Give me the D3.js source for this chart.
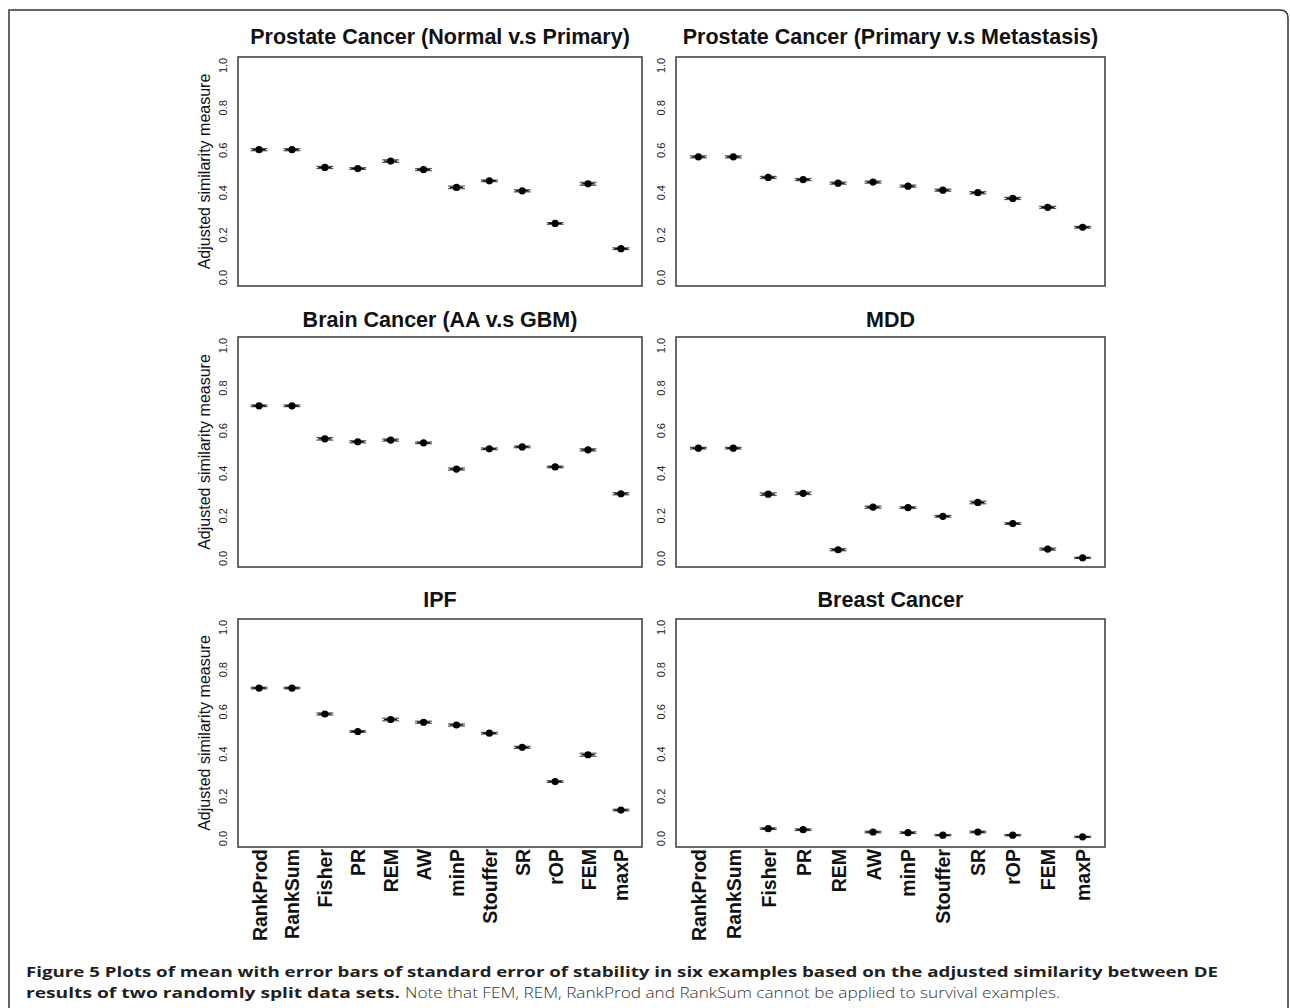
<!DOCTYPE html>
<html>
<head>
<meta charset="utf-8">
<script src="https://cdn.jsdelivr.net/npm/d3@7"></script>
<style>
  html, body { margin: 0; padding: 0; background: #fff; }
  svg { display: block; }
</style>
</head>
<body>
<svg id="chart" width="1290" height="1008"></svg>
<script>
// ---------------- DATA ----------------
const categories = ["RankProd","RankSum","Fisher","PR","REM","AW","minP","Stouffer","SR","rOP","FEM","maxP"];
const yTicks = [0.0, 0.2, 0.4, 0.6, 0.8, 1.0];
const yTickLabels = ["0.0","0.2","0.4","0.6","0.8","1.0"];
const panelTitles = [
  "Prostate Cancer (Normal v.s Primary)",
  "Prostate Cancer (Primary v.s Metastasis)",
  "Brain Cancer (AA v.s GBM)",
  "MDD",
  "IPF",
  "Breast Cancer"
];
const yAxisLabel = "Adjusted similarity measure";

// mean adjusted similarity (null = method not applicable)
const prostateNormalPrimary     = [0.603, 0.603, 0.519, 0.514, 0.549, 0.509, 0.425, 0.456, 0.409, 0.255, 0.442, 0.136];
const prostatePrimaryMetastasis = [0.569, 0.569, 0.472, 0.462, 0.445, 0.450, 0.431, 0.412, 0.400, 0.373, 0.331, 0.237];
const brainCancer               = [0.717, 0.717, 0.562, 0.548, 0.556, 0.543, 0.420, 0.515, 0.524, 0.430, 0.510, 0.304];
const mdd                       = [0.518, 0.518, 0.302, 0.306, 0.041, 0.241, 0.239, 0.198, 0.263, 0.164, 0.044, 0.003];
const ipf                       = [0.713, 0.713, 0.590, 0.507, 0.564, 0.551, 0.538, 0.499, 0.432, 0.270, 0.397, 0.135];
const breastCancer              = [null, null, 0.047, 0.042, null, 0.031, 0.028, 0.016, 0.031, 0.016, null, 0.008];

// standard errors
const seProstateNP = [0.005, 0.005, 0.005, 0.004, 0.006, 0.005, 0.006, 0.004, 0.005, 0.004, 0.007, 0.004];
const seProstatePM = [0.005, 0.005, 0.005, 0.005, 0.005, 0.005, 0.005, 0.005, 0.005, 0.005, 0.005, 0.004];
const seBrain      = [0.004, 0.004, 0.006, 0.005, 0.005, 0.004, 0.005, 0.004, 0.004, 0.004, 0.005, 0.005];
const seMdd        = [0.004, 0.004, 0.006, 0.006, 0.005, 0.005, 0.004, 0.004, 0.006, 0.004, 0.005, 0.003];
const seIpf        = [0.004, 0.004, 0.005, 0.004, 0.006, 0.005, 0.005, 0.004, 0.005, 0.004, 0.007, 0.004];
const seBreast     = [null, null, 0.004, 0.004, null, 0.004, 0.004, 0.003, 0.004, 0.003, null, 0.003];

const captionLine1 = "Figure 5 Plots of mean with error bars of standard error of stability in six examples based on the adjusted similarity between DE";
const captionLine2Bold = "results of two randomly split data sets.";
const captionLine2Plain = "Note that FEM, REM, RankProd and RankSum cannot be applied to survival examples.";

const panelMeans = [prostateNormalPrimary, prostatePrimaryMetastasis, brainCancer, mdd, ipf, breastCancer];
const panelSE = [seProstateNP, seProstatePM, seBrain, seMdd, seIpf, seBreast];

// ---------------- LAYOUT ----------------
const svg = d3.select("#chart");
const colX = [[238, 642], [676, 1105]];
const rowY = [[57, 286], [337, 567], [619, 847]];
const titleBase = [44, 327, 607];

// frame
svg.append("path")
  .attr("d", "M9,1030 L9,10 L1280,10 Q1288,10 1288,18 L1288,1030")
  .attr("fill", "none").attr("stroke", "#333").attr("stroke-width", 1.5);

panelTitles.forEach((title, i) => {
  const col = i % 2, row = Math.floor(i / 2);
  const [x0, x1] = colX[col];
  const [yTop, yBot] = rowY[row];
  const y = d3.scaleLinear().domain([-0.04, 1.04]).range([yBot, yTop]);
  const x = d3.scalePoint().domain(categories).range([x0, x1]).padding(0.64);

  const g = svg.append("g");

  // title
  g.append("text")
    .attr("x", (x0 + x1) / 2).attr("y", titleBase[row])
    .attr("text-anchor", "middle")
    .attr("font-family", "Liberation Sans, Arial, sans-serif")
    .attr("font-weight", "bold").attr("font-size", 21.5)
    .attr("fill", "#111")
    .text(title);

  // box
  g.append("rect")
    .attr("x", x0).attr("y", yTop).attr("width", x1 - x0).attr("height", yBot - yTop)
    .attr("fill", "none").attr("stroke", "#444").attr("stroke-width", 1.6);

  // y axis tick labels (rotated, R style)
  const yAxis = d3.axisLeft(y).tickValues(yTicks).tickSize(0).tickPadding(0)
    .tickFormat((d, k) => yTickLabels[k]);
  const ax = g.append("g").attr("transform", `translate(${x0 - 15},0)`).call(yAxis);
  ax.select(".domain").remove();
  ax.selectAll(".tick").attr("transform", null);
  ax.selectAll("text")
    .attr("x", 0).attr("y", 0)
    .attr("transform", d => `translate(0,${y(d)}) rotate(-90)`)
    .attr("dy", "0.35em")
    .attr("text-anchor", "middle")
    .attr("font-family", "Liberation Sans, Arial, sans-serif")
    .attr("font-size", 11).attr("fill", "#222");

  // y axis label (left column only)
  if (col === 0) {
    g.append("text")
      .attr("transform", `translate(${x0 - 28},${(yTop + yBot) / 2}) rotate(-90)`)
      .attr("text-anchor", "middle")
      .attr("font-family", "Liberation Sans, Arial, sans-serif")
      .attr("font-size", 16).attr("fill", "#111")
      .text(yAxisLabel);
  }

  // x labels (bottom row only)
  if (row === 2) {
    const xAxis = d3.axisBottom(x).tickSize(0).tickPadding(0);
    const xa = g.append("g").attr("transform", `translate(0,${yBot + 2})`).call(xAxis);
    xa.select(".domain").remove();
    xa.selectAll("text")
      .attr("y", 0).attr("x", 0).attr("dy", "0.36em")
      .attr("transform", "rotate(-90)")
      .attr("text-anchor", "end")
      .attr("font-family", "Liberation Sans, Arial, sans-serif")
      .attr("font-weight", "bold").attr("font-size", 19.5)
      .attr("fill", "#111");
  }

  // data
  const means = panelMeans[i], ses = panelSE[i];
  const pts = categories.map((c, k) => ({ c, m: means[k], se: ses[k] })).filter(d => d.m !== null);
  const capW = 8.5;
  const marks = g.append("g");
  pts.forEach(d => {
    const cx = x(d.c);
    const yl = y(d.m - d.se), yh = y(d.m + d.se);
    marks.append("line").attr("x1", cx).attr("x2", cx).attr("y1", yl).attr("y2", yh)
      .attr("stroke", "#222").attr("stroke-width", 1.2);
    [yl, yh].forEach(yy => {
      marks.append("line").attr("x1", cx - capW).attr("x2", cx + capW).attr("y1", yy).attr("y2", yy)
        .attr("stroke", "#555").attr("stroke-width", 1.2);
    });
    marks.append("line").attr("x1", cx - capW + 2).attr("x2", cx + capW - 2).attr("y1", y(d.m)).attr("y2", y(d.m))
      .attr("stroke", "#000").attr("stroke-width", 1.3);
    marks.append("circle").attr("cx", cx).attr("cy", y(d.m)).attr("r", 3.6).attr("fill", "#000");
  });
});

// caption
const cap = svg.append("g")
  .attr("font-family", "Open Sans, Noto Sans, sans-serif")
  .attr("font-size", 14.5).attr("fill", "#231f20");
cap.append("text").attr("x", 26).attr("y", 977).attr("font-weight", "bold")
  .attr("textLength", 1192).attr("lengthAdjust", "spacingAndGlyphs")
  .text(captionLine1);
cap.append("text").attr("x", 26).attr("y", 998).attr("font-weight", "bold")
  .attr("textLength", 374).attr("lengthAdjust", "spacingAndGlyphs")
  .text(captionLine2Bold);
cap.append("text").attr("x", 405).attr("y", 998).attr("font-weight", 300)
  .attr("fill", "#333")
  .attr("textLength", 655).attr("lengthAdjust", "spacingAndGlyphs")
  .text(captionLine2Plain);
</script>
</body>
</html>
